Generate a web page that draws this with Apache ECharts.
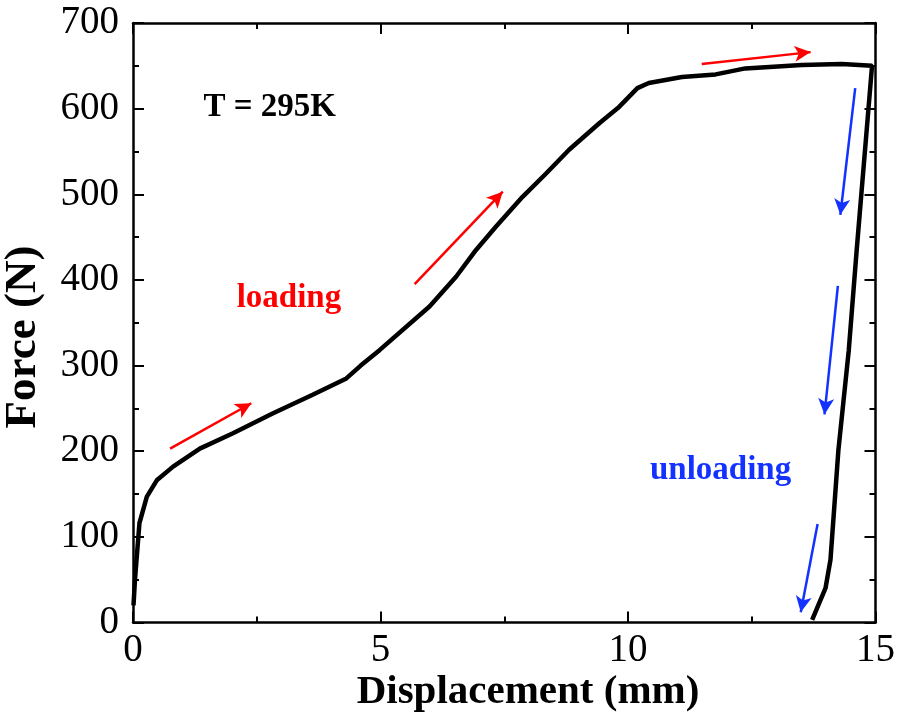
<!DOCTYPE html>
<html>
<head>
<meta charset="utf-8">
<script src="https://cdn.jsdelivr.net/npm/echarts@6/dist/echarts.min.js"></script>
<style>
html,body{margin:0;padding:0;background:#fff;}
#chart{width:898px;height:724px;}
</style>
</head>
<body>
<div id="chart"></div>
<script>
// Displacement (mm) and Force (N) of the loading/unloading curve
var displacement = [0.01, 0.04, 0.13, 0.28, 0.48, 0.81, 1.35, 2.02, 2.82, 3.63, 4.31, 4.6, 4.98, 5.99, 6.53, 6.93, 7.33, 7.87, 8.34, 8.81, 9.42, 9.82, 10.19, 10.42, 11.09, 11.77, 12.37, 13.51, 14.32, 14.93, 14.62, 14.46, 14.25, 14.09, 13.99, 13.72];
var force = [20, 50, 116, 147, 166, 182, 203, 221, 244, 266, 285, 300, 318, 369, 404, 435, 462, 497, 524, 552, 583, 602, 624, 630, 637, 640, 647, 651, 652, 650, 435, 318, 201, 73, 40, 3];

// Direction arrows: [x0, y0, x1, y1] in data units
var loadingArrows = [[0.75, 203, 2.39, 256], [5.69, 395, 7.47, 503], [11.49, 652, 13.69, 666]];
var unloadingArrows = [[14.59, 624, 14.29, 476], [14.24, 393, 13.97, 243], [13.83, 115, 13.49, 12]];

// Annotations: [text, x, y, colour]
var annotations = [["T = 295K", 2.76, 601, "#000000"], ["loading", 3.15, 378, "#ff0000"], ["unloading", 11.87, 177, "#1432ff"]];

var xTitle = 'Displacement (mm)';
var yTitle = 'Force (N)';

var xTicks = {min: 0, max: 15, interval: 5};
var yTicks = {min: 0, max: 700, interval: 100};

var FONT = "'Liberation Serif', 'Times New Roman', serif";
var chart = echarts.init(document.getElementById('chart'), null, {renderer: 'canvas'});

var curve = displacement.map(function (d, i) { return [d, force[i]]; });

function arrowLines(list) {
  return list.map(function (a) {
    return [{coord: [a[0], a[1]]}, {coord: [a[2], a[3]]}];
  });
}

var axisCommon = {
  axisLine: {show: true, onZero: false, lineStyle: {color: '#000', width: 2.5}},
  axisTick: {show: true, inside: true, length: 11, lineStyle: {color: '#000', width: 2}},
  minorTick: {show: true, splitNumber: 2, length: 6, lineStyle: {color: '#000', width: 2}},
  splitLine: {show: false}
};

function mk(base, extra) {
  return Object.assign({}, JSON.parse(JSON.stringify(axisCommon)), base, extra);
}

chart.setOption({
  animation: false,
  backgroundColor: '#fff',
  grid: {left: 133, right: 21, top: 23, bottom: 101.5, containLabel: false},
  xAxis: [
    mk({type: 'value', min: xTicks.min, max: xTicks.max, interval: xTicks.interval}, {
      position: 'bottom',
      axisLabel: {fontFamily: FONT, fontSize: 39, color: '#000', margin: 9}
    }),
    mk({type: 'value', min: xTicks.min, max: xTicks.max, interval: xTicks.interval}, {
      position: 'top', axisLabel: {show: false}
    })
  ],
  yAxis: [
    mk({type: 'value', min: yTicks.min, max: yTicks.max, interval: yTicks.interval}, {
      position: 'left',
      axisLabel: {fontFamily: FONT, fontSize: 39, color: '#000', margin: 14}
    }),
    mk({type: 'value', min: yTicks.min, max: yTicks.max, interval: yTicks.interval}, {
      position: 'right', axisLabel: {show: false}
    })
  ],
  series: [
    {
      type: 'line',
      data: curve,
      showSymbol: false,
      smooth: false,
      lineStyle: {color: '#000', width: 4.5},
      z: 3,
      markLine: {
        silent: true,
        symbol: ['none', 'arrow'],
        symbolSize: [12, 16],
        label: {show: false},
        lineStyle: {color: '#ff0000', width: 2.5, type: 'solid'},
        data: arrowLines(loadingArrows)
      }
    },
    {
      type: 'line',
      data: [],
      markLine: {
        silent: true,
        symbol: ['none', 'arrow'],
        symbolSize: [12, 16],
        label: {show: false},
        lineStyle: {color: '#1432ff', width: 2.5, type: 'solid'},
        data: arrowLines(unloadingArrows)
      }
    }
  ]
});

var graphics = annotations.map(function (a) {
  var p = chart.convertToPixel({xAxisIndex: 0, yAxisIndex: 0}, [a[1], a[2]]);
  return {
    type: 'text',
    x: p[0], y: p[1],
    style: {
      text: a[0], fill: a[3],
      font: 'bold 33px ' + FONT,
      textAlign: 'center', textVerticalAlign: 'middle'
    },
    z: 10
  };
});
graphics.push({
  type: 'text', x: 528, y: 692,
  style: {text: xTitle, fill: '#000', font: 'bold 41px ' + FONT, textAlign: 'center', textVerticalAlign: 'middle'},
  z: 10
});
graphics.push({
  type: 'text', x: 23, y: 337, rotation: Math.PI / 2,
  style: {text: yTitle, fill: '#000', font: 'bold 45px ' + FONT, textAlign: 'center', textVerticalAlign: 'middle'},
  z: 10
});
chart.setOption({graphic: graphics});
</script>
</body>
</html>
